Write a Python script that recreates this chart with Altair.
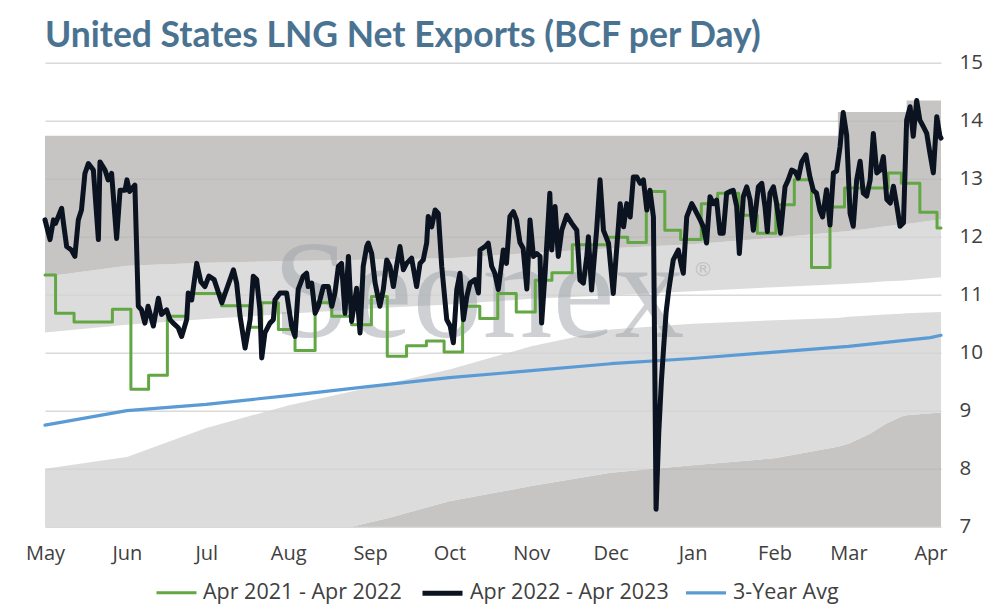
import altair as alt
import pandas as pd

START = pd.Timestamp("2022-05-01")
END_DAY = 339  # 2023-04-05

# ---- Data (day offset from 2022-05-01, value BCF/d) ----
black_points = [
    (0, 12.29), (1.9, 11.95), (3.2, 12.29), (4, 12.23), (6.3, 12.49), (7, 12.23), (8.2, 11.83),
    (10, 11.77), (11.3, 11.66), (12.6, 12.29), (13.8, 12.46), (15.1, 13.09), (16.4, 13.26),
    (18.3, 13.15), (20.2, 11.95), (20.8, 13.29), (22.7, 13.15), (23.9, 12.98), (25.2, 13.09),
    (27.1, 11.97), (28.4, 12.8), (30.3, 12.8), (31, 12.98), (32, 12.78), (34, 12.89),
    (35.3, 10.8), (36.5, 10.74), (37.8, 10.51), (39, 10.8), (41, 10.46), (42.9, 10.94),
    (44.1, 10.66), (46, 10.74), (47.3, 10.57), (48.5, 10.51), (50.4, 10.43), (51.7, 10.28),
    (53.6, 10.57), (54.2, 11.03), (55.5, 10.91), (57.4, 11.54), (59, 11.22), (60.5, 11.14),
    (62, 11.32), (64, 11.26), (66.9, 10.86), (68.2, 11.03), (70, 11.26), (71.3, 11.43),
    (72.5, 11.2), (73.8, 10.63), (75.7, 10.08), (77.6, 10.57), (78.8, 11.32), (80.1, 11.26),
    (81.3, 10.74), (82, 9.91), (83.2, 10.34), (85.1, 10.51), (86.4, 10.57), (87, 10.91),
    (88.9, 11.03), (91.4, 11.03), (93.3, 10.46), (94.6, 10.28), (95.8, 11.09), (97.7, 11.32),
    (99, 11.37), (99.6, 11.14), (100.9, 11.2), (102.2, 10.68), (103.4, 10.8), (105.3, 11.14),
    (107.2, 11.14), (108.5, 10.8), (109.7, 11.03), (111, 11.49), (112.2, 11.54), (113.5, 10.68),
    (114.8, 11.66), (116, 10.54), (117.9, 11.11), (119.2, 10.34), (120.4, 11.49), (121.7, 11.83),
    (122.3, 11.89), (123.6, 11.71), (124.9, 11.2), (126.7, 10.8), (128, 11.09), (129.3, 11.6),
    (130.5, 11.49), (131.8, 11.14), (133, 11.49), (134.3, 11.83), (135.6, 11.43), (136.8, 11.54),
    (138.7, 11.63), (140.6, 11.14), (141.9, 11.54), (143.1, 11.6), (144.4, 11.89), (145, 12.35),
    (146.3, 12.17), (147.6, 12.46), (148.8, 12.4), (150.1, 11.49), (152, 10.57), (153.3, 10.46),
    (154.5, 10.17), (155.8, 11.09), (157, 11.37), (158.3, 10.57), (159.6, 10.97), (160.8, 11.2),
    (162.7, 11.26), (164, 11.03), (164.6, 11.77), (166.5, 11.83), (167.7, 11.89), (169, 11.49),
    (170.2, 11.37), (171.5, 11.09), (173.4, 11.77), (174.6, 11.54), (175.9, 12.35), (177.2, 12.43),
    (178.4, 12.29), (179.7, 11.9), (180.9, 11.8), (182.3, 11.1), (183.5, 12.29), (184.8, 11.66),
    (186, 11.71), (187.3, 11.66), (187.9, 10.51), (189.2, 11.37), (191, 12.75), (191.7, 11.77),
    (193, 12.52), (194.2, 11.66), (195.5, 12.11), (197.4, 12.37), (199.3, 12.23), (201.2, 12.11),
    (202.4, 11.25), (203.7, 11.2), (205, 11.66), (205.6, 12.0), (206.8, 11.08), (208.7, 12.11),
    (210, 12.98), (211.3, 12.11), (213.2, 11.89), (215, 11.02), (217.6, 12.57), (218.9, 12.17),
    (220.1, 12.57), (221.4, 12.34), (222.6, 13.03), (223.9, 13.03), (225.2, 12.92), (226.4, 12.98),
    (227.7, 12.46), (228.9, 12.8), (230.2, 12.34), (231.2, 7.3), (232.2, 8.6), (233.2, 9.5),
    (234, 10.05), (235, 10.7), (236, 11.08), (237.7, 11.6), (239.6, 11.77), (240.8, 11.5),
    (241.5, 11.37), (242.8, 12.34), (244.7, 12.57), (246, 12.46), (247.9, 12.29), (249.1, 12.17),
    (250.3, 11.89), (251.6, 12.69), (252.9, 12.57), (254.1, 12.63), (255.4, 12.06), (256.6, 12.06),
    (257.9, 12.75), (259.2, 12.78), (260.4, 12.8), (261.7, 12.52), (262.7, 11.71), (264.2, 12.69),
    (265.5, 12.86), (266.8, 12.63), (268, 12.11), (269.9, 12.86), (271.2, 12.92), (272.4, 12.52),
    (273.3, 12.09), (274.3, 12.75), (275.6, 12.86), (276.8, 12.57), (278.3, 12.06), (280, 12.86),
    (281.2, 12.98), (282.5, 13.15), (283.8, 13.12), (285, 13.01), (286.3, 13.29), (287.9, 13.41),
    (289.4, 13.03), (290.7, 12.8), (291.9, 12.75), (293.2, 12.45), (294.2, 12.34), (295.7, 12.81),
    (297, 12.2), (298.3, 13.1), (299.5, 13.13), (300.8, 13.55), (302, 14.14), (303.3, 13.75),
    (304.6, 12.4), (305.8, 12.18), (307.1, 12.98), (308.4, 13.3), (309.6, 12.75), (310.9, 12.7),
    (312.2, 12.98), (313.4, 13.78), (314.7, 13.1), (316, 13.15), (317.2, 13.38), (318.5, 12.64),
    (319.8, 12.58), (321, 12.87), (322.3, 12.53), (323.5, 12.18), (324.8, 12.24), (326, 14.01),
    (327.3, 14.24), (328.5, 13.73), (329.8, 14.35), (331, 14.01), (332.3, 13.9), (333.6, 13.78),
    (334.8, 13.44), (336.1, 13.1), (337.4, 14.07), (338.6, 13.73), (339, 13.7),
]

# weekly step values of the prior year (start day, value)
green_steps = [
    (0, 11.34), (4, 10.68), (11, 10.53), (25.5, 10.75), (32.5, 9.37), (39.2, 9.61), (46.3, 10.63),
    (54, 11.02), (66.8, 10.81), (77.6, 10.44), (82, 10.86), (88.3, 10.4), (94.6, 10.04),
    (102.2, 10.86), (108.5, 10.63), (116, 10.48), (123.5, 10.97), (129.5, 9.94), (136.8, 10.12),
    (144.3, 10.2), (151, 10.01), (158, 10.8), (164.5, 10.59), (171.3, 11.02), (178.3, 10.7),
    (185.5, 11.25), (191.8, 11.38), (199.5, 11.86), (213, 11.99), (220.5, 11.9), (227.5, 12.78),
    (234.5, 12.11), (240.5, 11.95), (248.3, 12.57), (254.5, 12.75), (262.5, 12.37), (269.5, 12.06),
    (276.5, 12.55), (283.5, 12.98), (290, 11.47), (297, 12.51), (302.5, 12.84), (319, 13.1),
    (324, 12.92), (331, 12.42), (337.5, 12.15), (339, 12.15),
]

avg_days = [0, 31, 61, 92, 123, 153, 184, 214, 245, 276, 304, 335, 339]
avg_vals = [8.75, 9.0, 9.11, 9.26, 9.42, 9.57, 9.69, 9.81, 9.9, 10.01, 10.11, 10.26, 10.3]

# range band boundaries (bottom to top)
band_days = [0, 31, 61, 92, 116, 130, 153, 184, 214, 245, 276, 300, 300, 304, 312, 318, 324, 326, 326, 339]
b1 = [7.0, 7.0, 7.0, 7.0, 7.0, 7.15, 7.44, 7.7, 7.93, 8.06, 8.18, 8.38, 8.38, 8.43, 8.6, 8.77, 8.9, 8.92, 8.92, 8.97]
b2 = [8.0, 8.2, 8.7, 9.09, 9.33, 9.47, 9.71, 10.11, 10.4, 10.5, 10.56, 10.6, 10.6, 10.62, 10.64, 10.66, 10.67, 10.68, 10.68, 10.7]
b3 = [10.35, 10.48, 10.58, 10.67, 10.74, 10.78, 10.83, 10.93, 10.99, 11.06, 11.13, 11.18, 11.18, 11.19, 11.21, 11.23, 11.24, 11.25, 11.25, 11.3]
b4 = [11.31, 11.5, 11.55, 11.58, 11.6, 11.61, 11.63, 11.72, 11.8, 11.87, 11.98, 12.08, 12.08, 12.1, 12.14, 12.18, 12.21, 12.22, 12.22, 12.3]
b5 = [13.74, 13.74, 13.74, 13.74, 13.74, 13.74, 13.74, 13.74, 13.74, 13.74, 13.74, 13.74, 14.15, 14.15, 14.15, 14.15, 14.15, 14.15, 14.35, 14.35]

series_names = ["Apr 2021 - Apr 2022", "Apr 2022 - Apr 2023", "3-Year Avg"]
series_colors = ["#62a744", "#0b1320", "#5b9bd5"]
series_widths = [3, 5, 3.2]

tick_months = ["2022-05-01", "2022-06-01", "2022-07-01", "2022-08-01", "2022-09-01", "2022-10-01",
               "2022-11-01", "2022-12-01", "2023-01-01", "2023-02-01", "2023-03-01", "2023-04-01"]
y_ticks = [7, 8, 9, 10, 11, 12, 13, 14, 15]

title_text = "United States LNG Net Exports (BCF per Day)"
watermark = [("Seonex", 164, 10.27)]
watermark_mark = [("®", 249, 11.42)]


def ms(day):
    return int((START + pd.Timedelta(days=float(day))).timestamp() * 1000)


# ---- Tables ----
rows = []
for d, v in green_steps:
    rows.append({"t": ms(d), "v": v, "series": series_names[0]})
for d, v in black_points:
    rows.append({"t": ms(d), "v": v, "series": series_names[1]})
for d, v in zip(avg_days, avg_vals):
    rows.append({"t": ms(d), "v": v, "series": series_names[2]})
lines_df = pd.DataFrame(rows)

bands_df = pd.DataFrame({"t": [ms(d) for d in band_days], "b1": b1, "b2": b2, "b3": b3, "b4": b4, "b5": b5,
                         "b0": [7.0] * len(band_days)})

wm_df = pd.DataFrame([{"t": ms(d), "v": v, "txt": s} for s, d, v in watermark])
wm2_df = pd.DataFrame([{"t": ms(d), "v": v, "txt": s} for s, d, v in watermark_mark])

x_scale = alt.Scale(type="utc", domain=[ms(0), ms(END_DAY)])
y_scale = alt.Scale(domain=[7, 15], nice=False, zero=False)

x_axis = alt.Axis(values=[int(pd.Timestamp(m).timestamp() * 1000) for m in tick_months],
                  labelExpr="utcFormat(datum.value, '%b')", grid=False, domain=False, ticks=False,
                  tickSize=0, labelFont="Open Sans", labelFontSize=20, labelColor="#404040",
                  labelPadding=17, title=None, labelOverlap=False, labelFlush=False, labelBound=False)
y_axis = alt.Axis(orient="right", values=y_ticks, grid=True, gridColor="#d9d9d9", gridWidth=1.5,
                  domain=False, ticks=False, tickSize=0, labelFont="Open Sans", labelFontSize=20.5,
                  labelColor="#404040", labelPadding=18, title=None)


def X():
    return alt.X("t:T", scale=x_scale, axis=x_axis)


def Y(field):
    return alt.Y(field, scale=y_scale, axis=y_axis)


base_bands = alt.Chart(bands_df)
band_specs = [("b0", "b1", "#b8b6b5"), ("b1", "b2", "#d3d3d3"), ("b3", "b4", "#d3d3d3"), ("b4", "b5", "#b8b6b5")]
band_layers = []
for lo, hi, col in band_specs:
    band_layers.append(base_bands.mark_area(color=col, opacity=0.8, interpolate="linear").encode(
        x=X(), y=Y(f"{lo}:Q"), y2=alt.Y2(f"{hi}:Q")))

wm_layer = alt.Chart(wm_df).mark_text(font="Liberation Serif", fontSize=140, color="#9ea3aa", opacity=0.5,
                                      align="center", baseline="alphabetic").encode(
    x=X(), y=Y("v:Q"), text="txt:N")
wm2_layer = alt.Chart(wm2_df).mark_text(font="DejaVu Sans", fontSize=20, color="#9ea3aa", opacity=0.45,
                                        align="center", baseline="middle").encode(
    x=X(), y=Y("v:Q"), text="txt:N")

legend = alt.Legend(orient="none", legendX=110, legendY=508, direction="horizontal", title=None,
                    symbolType="stroke", symbolSize=1600, labelFont="Open Sans", labelFontSize=21.5,
                    labelColor="#404040", labelOffset=5, columnPadding=10, labelLimit=400)
color_enc = alt.Color("series:N", scale=alt.Scale(domain=series_names, range=series_colors), legend=legend)
width_enc = alt.StrokeWidth("series:N", scale=alt.Scale(type="ordinal", domain=series_names, range=series_widths),
                            legend=legend)

lines_base = alt.Chart(lines_df)


def line_layer(name, interp):
    return lines_base.transform_filter(alt.datum.series == name).mark_line(
        interpolate=interp, strokeJoin="round", strokeCap="round").encode(
        x=X(), y=Y("v:Q"), color=color_enc, strokeWidth=width_enc)


chart = alt.layer(
    *band_layers, wm_layer, wm2_layer,
    line_layer(series_names[2], "linear"),
    line_layer(series_names[0], "step-after"),
    line_layer(series_names[1], "linear"),
).properties(
    width=896, height=464,
    title=alt.TitleParams(text=title_text, anchor="start", frame="group", font="Lato", fontSize=35.5,
                          fontWeight="bold", color="#4a7391", offset=13, dy=43, baseline="alphabetic"),
    autosize=alt.AutoSizeParams(type="none"),
    padding={"left": 37, "top": 54.7, "right": 45, "bottom": 78.3},
).configure(background="white").configure_view(strokeWidth=0)

chart.save("out.html", embed_options={"renderer": "svg", "actions": False})
